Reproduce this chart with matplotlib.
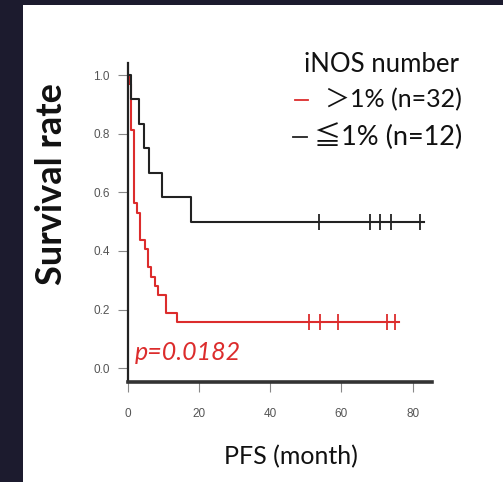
import matplotlib.pyplot as plt
from matplotlib.patches import Rectangle

# Kaplan-Meier steps
red_times = [0, 0.4, 1.0, 1.7, 2.7, 3.4, 4.9, 5.6, 6.5, 7.7, 8.6, 10.8, 13.7, 76.2]
red_surv = [1.0, 0.969, 0.8125, 0.5625, 0.531, 0.4375, 0.406, 0.344, 0.3125, 0.281, 0.25, 0.1875, 0.156, 0.156]
red_censor = [51.0, 54.0, 58.9, 72.9, 75.0]

black_times = [0, 0.85, 3.2, 4.7, 6.0, 9.7, 17.7, 83.2]
black_surv = [1.0, 0.917, 0.833, 0.75, 0.667, 0.583, 0.5, 0.5]
black_censor = [53.8, 67.9, 70.9, 73.8, 82.1]

x_ticks = [0, 20, 40, 60, 80]
y_ticks = [0.0, 0.2, 0.4, 0.6, 0.8, 1.0]

red = '#dc2c2c'
dark = '#222222'
W, H = 503, 482


def fx(px):
    return px / W


def fy(py):
    return 1 - py / H


fig = plt.figure(figsize=(W / 100, H / 100), dpi=100)
fig.patch.set_facecolor('#1c1b2e')
fig.patches.append(Rectangle((fx(23), 0), 1, fy(5), transform=fig.transFigure,
                             facecolor='white', edgecolor='none', zorder=-5))

ax = fig.add_axes([fx(127.7), fy(382), (432 - 127.7) / W, (382 - 63.3) / H])
ax.set_facecolor('none')

ax.step(red_times, red_surv, where='post', color=red, lw=1.5)
ax.step(black_times, black_surv, where='post', color=dark, lw=1.5)
ax.plot(red_censor, [red_surv[-1]] * len(red_censor), ls='none', marker='|',
        ms=11, mew=1.3, color=red)
ax.plot(black_censor, [black_surv[-1]] * len(black_censor), ls='none', marker='|',
        ms=11, mew=1.3, color=dark)

ax.set_xlim(0, 85.4)
ax.set_ylim(-0.047, 1.04)
for s in ['top', 'right']:
    ax.spines[s].set_visible(False)
ax.spines['left'].set_linewidth(1.6)
ax.spines['left'].set_color(dark)
ax.spines['bottom'].set_linewidth(2.6)
ax.spines['bottom'].set_color('#333333')

ax.set_xticks(x_ticks)
ax.set_yticks(y_ticks)
ax.set_yticklabels(['%.1f' % v for v in y_ticks])
ax.tick_params(axis='both', length=7, width=0.8, color='#888888', labelcolor='#555555',
               labelsize=8.5)
ax.tick_params(axis='x', pad=12)
ax.tick_params(axis='y', pad=6)
for lab in ax.get_xticklabels() + ax.get_yticklabels():
    lab.set_family('Liberation Sans')

txt_font = ['Lato', 'Noto Sans CJK JP', 'DejaVu Sans']
fig.text(fx(291), fy(457), 'PFS (month)', ha='center', va='center', fontsize=18,
         family=txt_font, color='#111111')
fig.text(fx(52), fy(184), 'Survival rate', rotation=90, ha='center', va='center',
         fontsize=26, family=txt_font, color='#111111', fontweight='bold')

fig.text(fx(382), fy(64), 'iNOS number', ha='center', va='center', fontsize=18.5,
         family=txt_font, color='#111111')
fig.text(fx(462), fy(100), '＞1% (n=32)', ha='right', va='center', fontsize=18,
         family=txt_font, color='#111111')
fig.text(fx(462), fy(137), '≦1% (n=12)', ha='right', va='center', fontsize=19.5,
         family=txt_font, color='#111111')
fig.add_artist(plt.Line2D([fx(295), fx(308)], [fy(100), fy(100)], color=red, lw=1.3))
fig.add_artist(plt.Line2D([fx(293), fx(307)], [fy(137), fy(137)], color=dark, lw=1.3))

ax.text(2.0, 0.052, 'p=0.0182', color=red, fontsize=18, style='italic',
        family=txt_font, va='center', ha='left')

fig.savefig('out.png', dpi=100, facecolor=fig.get_facecolor())
